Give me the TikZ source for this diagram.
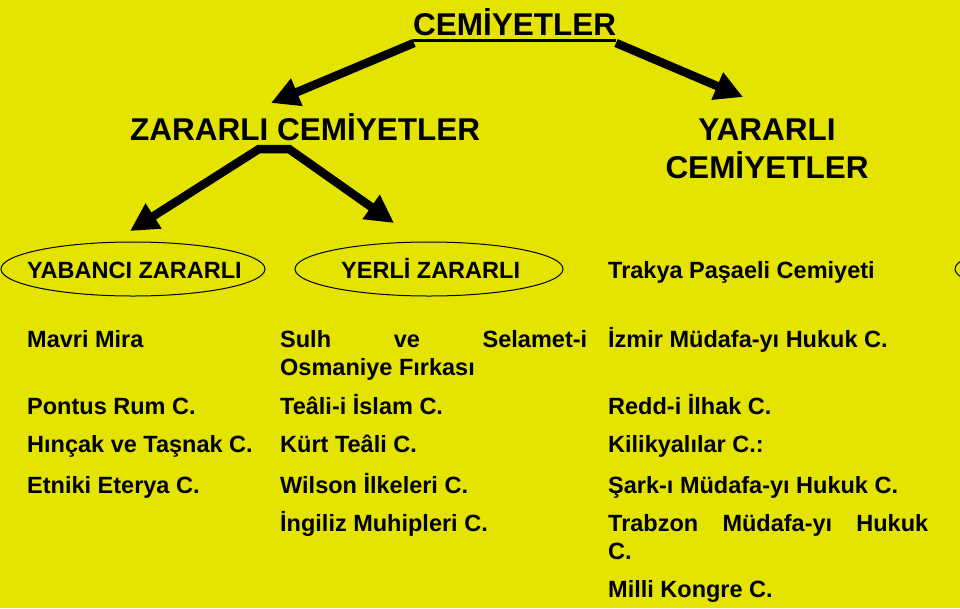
\documentclass[tikz,border=0pt]{standalone}
\usepackage{fontspec}
\setmainfont{Liberation Sans}
\usetikzlibrary{arrows.meta,shapes.geometric}
\definecolor{bg}{RGB}{228,228,0}
\begin{document}
\begin{tikzpicture}[x=1pt,y=-1pt,
  big/.style={font=\fontsize{31.5}{38}\selectfont\bfseries, inner sep=0pt},
  item/.style={font=\fontsize{23.5}{28}\selectfont\bfseries, inner sep=0pt, anchor=base west, align=left},
  arr/.style={line width=8.5pt, -{Triangle[length=28pt,width=28pt]}},
  oval/.style={draw, ellipse, line width=1pt, minimum width=264pt, minimum height=54pt, inner sep=0pt}]
\fill[bg] (0,0) rectangle (960,608);
\useasboundingbox (0,0) rectangle (960,608);
% titles
\node[big, anchor=base west] (cem) at (413,35) {CEMİYETLER};
\draw[line width=2.5pt] ([yshift=-5.5pt]cem.base west) -- ([yshift=-5.5pt]cem.base east);
\node[big, anchor=base west] (zc) at (130,140) {ZARARLI CEMİYETLER};
\node[big, anchor=base] (yc1) at (767,140) {YARARLI};
\node[big, anchor=base] (yc2) at (767,178) {CEMİYETLER};
% arrows
\coordinate (a1s) at (414,43); \coordinate (a1e) at (271,103);
\coordinate (a2s) at (616,43); \coordinate (a2e) at (743,97);
\draw[arr] (a1s) -- (a1e);
\draw[arr] (a2s) -- (a2e);
\coordinate (bl) at (259,149); \coordinate (br) at (289,149);
\coordinate (tl) at (130,231); \coordinate (tr) at (394,223);
\draw[line width=8.5pt, {Triangle[length=28pt,width=28pt]}-{Triangle[length=28pt,width=28pt]}] (tl) -- (bl) -- (br) -- (tr);
% ovals
\node[oval] (o1) at (133,269) {};
\node[oval, minimum width=268pt] (o2) at (429,269) {};
\begin{scope}
\clip (0,0) rectangle (960,608);
\node[oval, minimum width=268pt] (o3) at (1089,269) {};
\end{scope}
% row headers
\node[item] (yab) at (27,278) {YABANCI ZARARLI};
\node[item] (yer) at (341,278) {YERLİ ZARARLI};
\node[item] (tra) at (608,278) {Trakya Paşaeli Cemiyeti};
% left column
\node[item] (l1) at (27,347) {Mavri Mira};
\node[item] (l2) at (27,414) {Pontus Rum C.};
\node[item] (l3) at (27,452) {Hınçak ve Taşnak C.};
\node[item] (l4) at (27,493) {Etniki Eterya C.};
% middle column (multi-line nodes: base is the last line)
\node[item] (m1) at (280,375) {\makebox[307pt][s]{Sulh ve Selamet-i}\\Osmaniye Fırkası};
\node[item] (m2) at (280,414) {Teâli-i İslam C.};
\node[item] (m3) at (280,452) {Kürt Teâli C.};
\node[item] (m4) at (280,493) {Wilson İlkeleri C.};
\node[item] (m5) at (280,531) {İngiliz Muhipleri C.};
% right column
\node[item] (r1) at (608,347) {İzmir Müdafa-yı Hukuk C.};
\node[item] (r2) at (608,414) {Redd-i İlhak C.};
\node[item] (r3) at (608,452) {Kilikyalılar C.:};
\node[item] (r4) at (608,493) {Şark-ı Müdafa-yı Hukuk C.};
\node[item] (r5) at (608,559) {\makebox[320pt][s]{Trabzon Müdafa-yı Hukuk}\\C.};
\node[item] (r6) at (608,597) {Milli Kongre C.};
\end{tikzpicture}
\end{document}
